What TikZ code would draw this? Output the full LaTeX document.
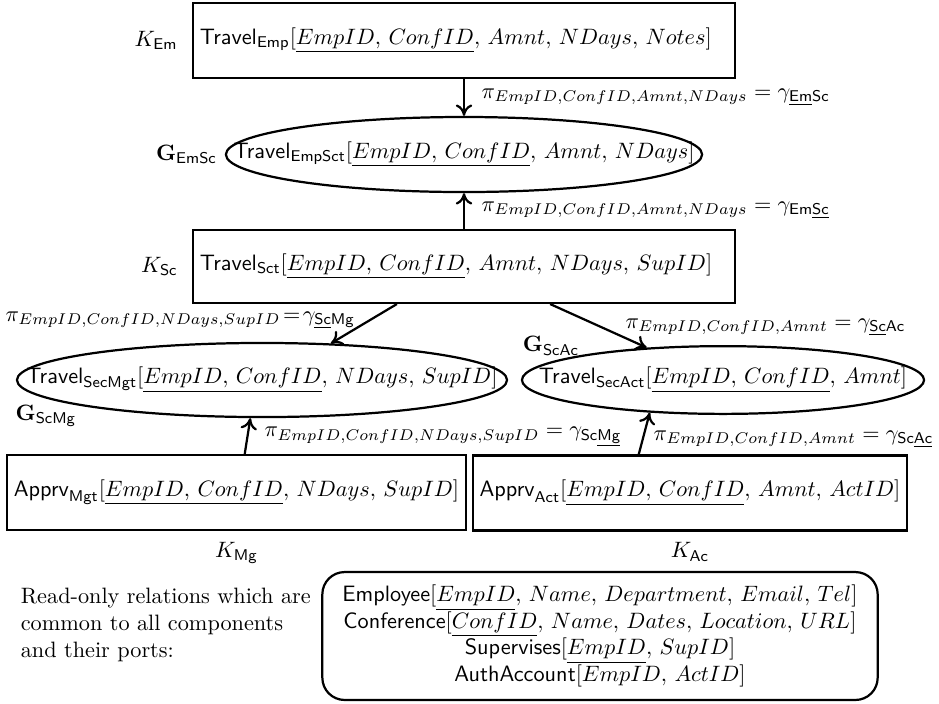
\documentclass[tikz,border=0pt]{standalone}
\usepackage{amsmath}
\usetikzlibrary{arrows.meta, positioning, shapes.geometric}

\newcommand{\rel}[1]{\textsf{#1}}
\newcommand{\key}[1]{\underline{#1}}

\begin{document}
\begin{tikzpicture}[
        x=0.0158cm, y=-0.0158cm,
        box/.style={draw, line width=1pt, minimum height=1.185cm, inner sep=3pt},
        wide/.style={box, minimum width=8.56cm, text width=8.34cm, align=left},
        port/.style={draw, ellipse, line width=1pt, inner sep=0pt},
        proj/.style={anchor=west, inner sep=1pt},
        common/.style={draw, line width=1pt, rounded corners=10pt, align=center, minimum width=8.77cm, minimum height=2.02cm},
        link/.style={->, line width=1pt},
        >={To[length=1.8mm, width=2.6mm]}
        ]
        \useasboundingbox (0,0) rectangle (939,703);
        % employee component
        \node[wide] (TE) at (464,40.5)
            {$\rel{Travel}_{\mathsf{Emp}}[\key{EmpID,\,ConfID},\,Amnt,\,NDays,\,Notes]$};
        \node[left=1mm of TE] (KEm) {$K_{\mathsf{Em}}$};
        % port between employee and secretariat
        \node[port, minimum width=7.52cm, minimum height=1.185cm,
            label=center:{$\rel{Travel}_{\mathsf{EmpSct}}[\key{EmpID,\,ConfID},\,Amnt,\,NDays]$}] (EmSc) at (464,154.5) {};
        \node[left=0mm of EmSc] (GEmSc) {$\mathbf{G}_{\mathsf{EmSc}}$};
        % secretariat component
        \node[wide, minimum height=1.15cm] (Sct) at (464,266.5)
            {$\rel{Travel}_{\mathsf{Sct}}[\key{EmpID,\,ConfID},\,Amnt,\,NDays,\,SupID]$};
        \node[left=1mm of Sct] (KSc) {$K_{\mathsf{Sc}}$};
        \draw[link] (TE.south) -- (EmSc.north);
        \draw[link] (Sct.north) -- (EmSc.south);
        \node[proj] (pEm) at (479,97)
            {$\pi_{EmpID,ConfID,Amnt,NDays} = \gamma_{\underline{\mathsf{Em}}\mathsf{Sc}}$};
        \node[proj] (pSc) at (479,210)
            {$\pi_{EmpID,ConfID,Amnt,NDays} = \gamma_{\mathsf{Em}\underline{\mathsf{Sc}}}$};
        % ports towards management and accounting
        \node[port, minimum width=7.74cm, minimum height=1.17cm,
            label=center:{$\rel{Travel}_{\mathsf{SecMgt}}[\key{EmpID,\,ConfID},\,NDays,\,SupID]$}] (ScMg) at (262,380) {};
        \node[port, minimum width=6.35cm, minimum height=1.07cm,
            label=center:{$\rel{Travel}_{\mathsf{SecAct}}[\key{EmpID,\,ConfID},\,Amnt]$}] (ScAc) at (723,380) {};
        \node (GScMg) at (46,416) {$\mathbf{G}_{\mathsf{ScMg}}$};
        \node (GScAc) at (551,346) {$\mathbf{G}_{\mathsf{ScAc}}$};
        \draw[link] ([xshift=-1.06cm]Sct.south) -- (ScMg.28);
        \draw[link] ([xshift=1.36cm]Sct.south) -- (ScAc.157);
        \node[proj] (pScMg) at (3,320)
            {$\pi_{EmpID,ConfID,NDays,SupID}\!=\!\gamma_{\underline{\mathsf{Sc}}\mathsf{Mg}}$};
        \node[proj] (pScAc) at (623,327)
            {$\pi_{EmpID,ConfID,Amnt} = \gamma_{\underline{\mathsf{Sc}}\mathsf{Ac}}$};
        % management and accounting components
        \node[box, minimum width=7.25cm] (Mgt) at (236.5,492.5)
            {$\rel{Apprv}_{\mathsf{Mgt}}[\key{EmpID,\,ConfID},\,NDays,\,SupID]$};
        \node[box, minimum width=6.86cm] (Act) at (690,493)
            {$\rel{Apprv}_{\mathsf{Act}}[\key{EmpID,\,ConfID},\,Amnt,\,ActID]$};
        \node[below=0.5mm of Mgt] (KMg) {$K_{\mathsf{Mg}}$};
        \node[below=0.5mm of Act] (KAc) {$K_{\mathsf{Ac}}$};
        \draw[link] ([xshift=0.13cm]Mgt.north) -- (ScMg.253);
        \draw[link] ([xshift=-0.81cm]Act.north) -- (ScAc.204);
        \node[proj] (pMg) at (262,437)
            {$\pi_{EmpID,ConfID,NDays,SupID} = \gamma_{\mathsf{Sc}\underline{\mathsf{Mg}}}$};
        \node[proj] (pAc) at (651,439)
            {$\pi_{EmpID,ConfID,Amnt} = \gamma_{\mathsf{Sc}\underline{\mathsf{Ac}}}$};
        % shared read-only relations
        \node[anchor=west, align=left] (ro) at (13,625)
            {Read-only relations which are\\common to all components\\and their ports:};
        \node[common] (shared) at (600,636) {%
            $\rel{Employee}[\key{EmpID},\,Name,\,Department,\,Email,\,Tel]$\\
            $\rel{Conference}[\key{ConfID},\,Name,\,Dates,\,Location,\,URL]$\\
            $\rel{Supervises}[\key{EmpID},\,SupID]$\\
            $\rel{AuthAccount}[EmpID,\,ActID]$};
    \end{tikzpicture}
\end{document}
